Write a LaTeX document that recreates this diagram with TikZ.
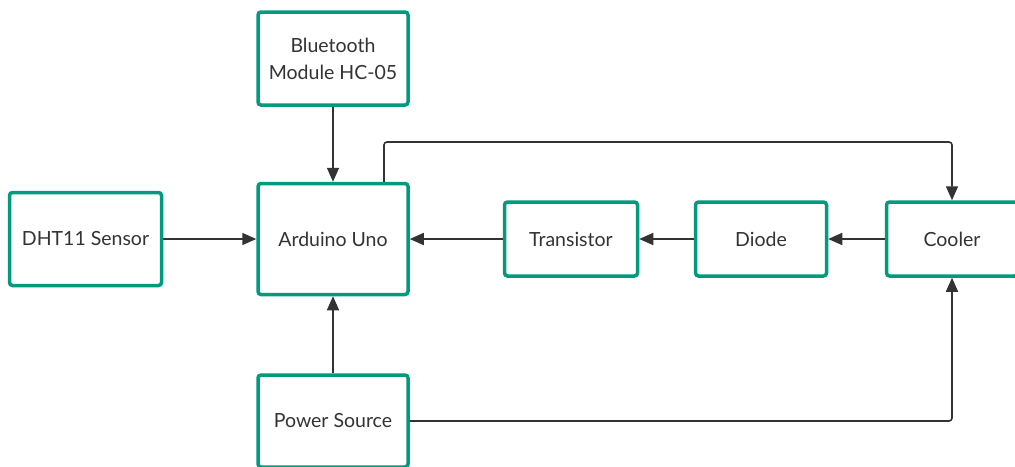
\documentclass[tikz,border=0pt]{standalone}
\usepackage{fontspec}
\setmainfont{Lato}
\usetikzlibrary{arrows.meta}
\definecolor{teal1}{HTML}{009B7D}
\definecolor{ink}{HTML}{333333}
\begin{document}
\begin{tikzpicture}[x=1pt,y=-1pt,
  blk/.style={draw=teal1, line width=3.5pt, rounded corners=3pt, fill=white,
    text=ink, font=\fontsize{19.5}{27}\selectfont, align=center, inner sep=0pt},
  conn/.style={draw=ink, line width=1.6pt, -{Triangle[length=14pt,width=12pt]}}]
\useasboundingbox (0,0) rectangle (1015,466);
\clip (0,0) rectangle (1015,466);
\fill[white] (0,0) rectangle (1015,466);
\node[blk, minimum width=150pt, minimum height=93pt] (bt) at (333,58.5) {Bluetooth\\Module HC-05};
\node[blk, minimum width=150pt, minimum height=111pt] (ard) at (333,239) {Arduino Uno};
\node[blk, minimum width=152pt, minimum height=93pt] (dht) at (85.5,239) {DHT11 Sensor};
\node[blk, minimum width=133pt, minimum height=74pt] (tr) at (571,239) {Transistor};
\node[blk, minimum width=131pt, minimum height=74pt] (di) at (761,239) {Diode};
\node[blk, minimum width=131pt, minimum height=74pt] (cool) at (952,239) {Cooler};
\node[blk, minimum width=150pt, minimum height=92pt] (pw) at (333,421) {Power Source};
\coordinate (topbend) at (384,142);
\draw[conn] (bt.south) -- (ard.north);
\draw[conn] (dht.east) -- (ard.west);
\draw[conn] (tr.west) -- (ard.east);
\draw[conn] (di.west) -- (tr.east);
\draw[conn] (cool.west) -- (di.east);
\draw[conn] (pw.north) -- (ard.south);
\draw[conn, rounded corners=3pt] (ard.north -| topbend) -- (topbend) -| (cool.north);
\draw[conn, rounded corners=3pt] (pw.east) -| (cool.south);
\end{tikzpicture}
\end{document}
